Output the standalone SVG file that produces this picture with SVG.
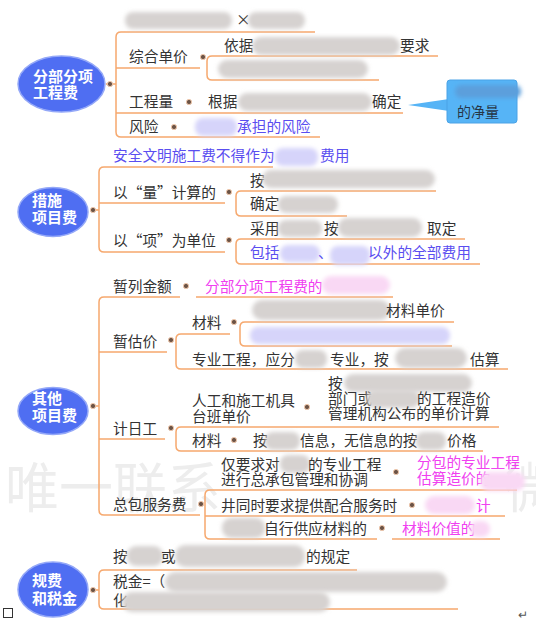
<svg xmlns="http://www.w3.org/2000/svg" width="536" height="621" viewBox="0 0 536 621">
<defs>
<filter id="blur" x="-20%" y="-40%" width="140%" height="180%"><feGaussianBlur stdDeviation="2"/></filter>
<style>
text{font-family:"Noto Sans CJK SC","Noto Sans",sans-serif;font-size:14.7px;fill:#333}
.root text{fill:#fff;font-weight:bold;font-size:15px}
.root ellipse{fill:#4f6ef2;stroke:#94a8f8;stroke-width:1.5}
.pu{fill:#5a4ef0}
.pk{fill:#f040f0}
.wm{fill:#ededed;font-size:54px}
.ln{fill:none;stroke:#f6a86e;stroke-width:1.5}
.dot{fill:#6b5346;stroke:#eec6aa;stroke-width:1}
.bg{fill:#d6d2d0;filter:url(#blur)}
.bp{fill:#d6d4fa;filter:url(#blur)}
.bk{fill:#f9d8f4;filter:url(#blur)}
.bb{fill:#5c9fdc;filter:url(#blur)}
</style>
</defs>
<rect width="536" height="621" fill="#fff"/>
<g id="watermark"><text class="wm" x="5" y="508">唯一联系</text><text class="wm" x="505" y="508">微</text></g>

<g id="connectors">
<path class="ln" d="M315,32 H121 Q116,32 116,37 V132 Q116,137 121,137 H320"/>
<path class="ln" d="M116,68 H200 M116,113 H403 M106,84 H116"/>
<path class="ln" d="M438,56 H212 Q207,56 207,61 V75 Q207,80 212,80 H379"/>
<path class="ln" d="M273,167 H104 Q99,167 99,172 V247 Q99,252 104,252 H225 M99,203 H225 M93,210 H99"/>
<path class="ln" d="M436,191 H241 Q236,191 236,196 V211 Q236,216 241,216 H347"/>
<path class="ln" d="M465,239 H241 Q236,239 236,244 V259 Q236,264 241,264 H480"/>
<path class="ln" d="M180,297 H104 Q99,297 99,302 V510 Q99,515 104,515 H200 M196,297 H393 M99,352 H167 M99,439 H165 M93,406 H99"/>
<path class="ln" d="M230,334 H181 Q176,334 176,339 V364 Q176,369 181,369 H508"/>
<path class="ln" d="M454,322 H245 Q240,322 240,327 V341 Q240,346 245,346 H452"/>
<path class="ln" d="M499,427 H181 Q176,427 176,432 V446 Q176,451 181,451 H483"/>
<path class="ln" d="M517,490 H210 Q205,490 205,495 V534 Q205,539 210,539 H377 M392,539 H500 M205,516 H505"/>
<path class="ln" d="M357,570 H104 Q99,570 99,575 V604 Q99,609 104,609 H458 M93,590 H99"/>
<path d="M449,99 L408,105 L449,111 Z" fill="#56b4f6"/>
</g>

<g id="dots">
<circle class="dot" cx="110" cy="84" r="2.6"/><circle class="dot" cx="203" cy="57" r="2.6"/><circle class="dot" cx="189" cy="102" r="2.6"/><circle class="dot" cx="174" cy="127" r="2.6"/>
<circle class="dot" cx="93" cy="210" r="2.6"/><circle class="dot" cx="229" cy="192" r="2.6"/><circle class="dot" cx="229" cy="240" r="2.6"/>
<circle class="dot" cx="93" cy="406" r="2.6"/><circle class="dot" cx="186" cy="286" r="2.6"/><circle class="dot" cx="171" cy="340" r="2.6"/><circle class="dot" cx="234" cy="322" r="2.6"/><circle class="dot" cx="171" cy="428" r="2.6"/><circle class="dot" cx="307" cy="407" r="2.6"/><circle class="dot" cx="234" cy="440" r="2.6"/><circle class="dot" cx="201" cy="504" r="2.6"/><circle class="dot" cx="396" cy="472" r="2.6"/><circle class="dot" cx="412" cy="505" r="2.6"/><circle class="dot" cx="382" cy="528" r="2.6"/>
<circle class="dot" cx="93" cy="590" r="2.6"/>
</g>

<g id="root1" class="root"><ellipse cx="61.5" cy="84" rx="43.5" ry="28"/><text x="33" y="82">分部分项</text><text x="33" y="98">工程费</text></g>
<g id="root2" class="root"><ellipse cx="53" cy="212" rx="35" ry="24.5"/><text x="32" y="206">措施</text><text x="32" y="223">项目费</text></g>
<g id="root3" class="root"><ellipse cx="53" cy="411" rx="35" ry="23.5"/><text x="32" y="404">其他</text><text x="32" y="421">项目费</text></g>
<g id="root4" class="root"><ellipse cx="53" cy="589.5" rx="35" ry="27.5"/><text x="32" y="586">规费</text><text x="32" y="604">和税金</text></g>

<g id="n-top"><rect class="bg" x="125" y="12" width="107" height="17" rx="8"/><text x="236" y="25">×</text><rect class="bg" x="248" y="12" width="57" height="17" rx="8"/></g>
<g id="n-zhdj"><text x="129" y="62">综合单价</text></g>
<g id="n-yiju"><text x="224" y="51">依据</text><rect class="bg" x="252" y="37" width="148" height="18" rx="9"/><text x="400" y="51">要求</text></g>
<g id="n-zh2"><rect class="bg" x="218" y="60" width="150" height="18" rx="9"/></g>
<g id="n-gcl"><text x="129" y="107">工程量</text></g>
<g id="n-genju"><text x="208" y="107">根据</text><rect class="bg" x="238" y="93" width="134" height="18" rx="9"/><text x="372" y="107">确定</text></g>
<g id="n-fx"><text x="129" y="132">风险</text></g>
<g id="n-fx2"><rect class="bp" x="195" y="118" width="42" height="18" rx="8"/><text class="pu" x="237" y="132">承担的风险</text></g>
<g id="callout"><rect x="447" y="80" width="70" height="43" rx="3" fill="#56b4f6" stroke="#4aa2e6"/><rect class="bb" x="455" y="85" width="66" height="13" rx="6"/><text x="457" y="117" style="fill:#263646;font-size:14px">的净量</text></g>

<g id="n-aqwm"><text class="pu" x="113" y="161">安全文明施工费不得作为</text><rect class="bp" x="275" y="148" width="43" height="18" rx="8"/><text class="pu" x="320" y="161">费用</text></g>
<g id="n-liang"><text x="113" y="198">以“量”计算的</text></g>
<g id="n-an1"><text x="250" y="186">按</text><rect class="bg" x="262" y="170" width="173" height="18" rx="9"/></g>
<g id="n-qd"><text x="250" y="209">确定</text><rect class="bg" x="278" y="196" width="60" height="17" rx="8"/></g>
<g id="n-xiang"><text x="113" y="246">以“项”为单位</text></g>
<g id="n-cy"><text x="250" y="234">采用</text><rect class="bg" x="278" y="220" width="44" height="17" rx="8"/><text x="324" y="234">按</text><rect class="bg" x="338" y="218" width="84" height="19" rx="9"/><text x="427" y="234">取定</text></g>
<g id="n-bk"><text class="pu" x="250" y="258">包括</text><rect class="bp" x="280" y="245" width="40" height="17" rx="8"/><text class="pu" x="318" y="258">、</text><rect class="bp" x="330" y="246" width="40" height="19" rx="8"/><text class="pu" x="368" y="258">以外的全部费用</text></g>

<g id="n-zljr"><text x="113" y="292">暂列金额</text></g>
<g id="n-zljr2"><text class="pk" x="205" y="292">分部分项工程费的</text><rect class="bk" x="322" y="276" width="68" height="18" rx="9"/></g>
<g id="n-zgj"><text x="113" y="347">暂估价</text></g>
<g id="n-cl"><text x="192" y="328">材料</text></g>
<g id="n-cl1"><rect class="bg" x="252" y="300" width="138" height="20" rx="10"/><text x="386" y="316">材料单价</text></g>
<g id="n-cl2"><rect class="bp" x="250" y="327" width="200" height="17" rx="8"/></g>
<g id="n-zygc"><text x="192" y="365">专业工程，应分</text><rect class="bg" x="295" y="350" width="32" height="18" rx="8"/><text x="330" y="365">专业，按</text><rect class="bg" x="395" y="348" width="72" height="20" rx="10"/><text x="470" y="365">估算</text></g>
<g id="n-jrg"><text x="113" y="434">计日工</text></g>
<g id="n-rg"><text x="192" y="406">人工和施工机具</text><text x="192" y="422">台班单价</text></g>
<g id="n-asheng"><text x="328" y="389">按</text><rect class="bg" x="344" y="374" width="128" height="18" rx="9"/><text x="328" y="404">部门或</text><rect class="bg" x="366" y="390" width="54" height="18" rx="9"/><text x="417" y="404">的工程造价</text><text x="328" y="419">管理机构公布的单价计算</text></g>
<g id="n-cl3"><text x="192" y="446">材料</text></g>
<g id="n-cl4"><text x="253" y="446">按</text><rect class="bg" x="265" y="432" width="35" height="18" rx="8"/><text x="300" y="446">信息，无信息的按</text><rect class="bg" x="416" y="432" width="30" height="18" rx="8"/><text x="447" y="446">价格</text></g>
<g id="n-zbfw"><text x="113" y="510">总包服务费</text></g>
<g id="n-zb1"><text x="221" y="470">仅要求对</text><rect class="bg" x="280" y="455" width="30" height="18" rx="8"/><text x="308" y="470">的专业工程</text><text x="221" y="485">进行总承包管理和协调</text></g>
<g id="n-zb1r"><text class="pk" x="417" y="468">分包的专业工程</text><text class="pk" x="417" y="484">估算造价的</text><rect class="bk" x="480" y="472" width="45" height="19" rx="9"/></g>
<g id="n-zb2"><text x="221" y="511">井同时要求提供配合服务时</text></g>
<g id="n-zb2r"><rect class="bk" x="425" y="496" width="50" height="18" rx="9"/><text class="pk" x="476" y="511">计</text></g>
<g id="n-zb3"><rect class="bg" x="222" y="518" width="43" height="20" rx="9"/><text x="264" y="534">自行供应材料的</text></g>
<g id="n-zb3r"><text class="pk" x="402" y="534">材料价值的</text><rect class="bk" x="470" y="521" width="20" height="16" rx="8"/></g>

<g id="n-gf1"><text x="113" y="562">按</text><rect class="bg" x="127" y="546" width="36" height="20" rx="9"/><text x="161" y="562">或</text><rect class="bg" x="175" y="545" width="130" height="22" rx="10"/><text x="306" y="562">的规定</text></g>
<g id="n-gf2"><text x="113" y="587">税金=（</text><text x="113" y="606">化</text><rect class="bg" x="165" y="572" width="282" height="20" rx="10"/><rect class="bg" x="122" y="592" width="208" height="20" rx="10"/></g>

<g id="doc-marks"><rect x="3.5" y="608.5" width="9" height="9" fill="none" stroke="#333" stroke-width="1"/><text x="518" y="619" style="font-size:12px;fill:#555">↵</text></g>
</svg>
